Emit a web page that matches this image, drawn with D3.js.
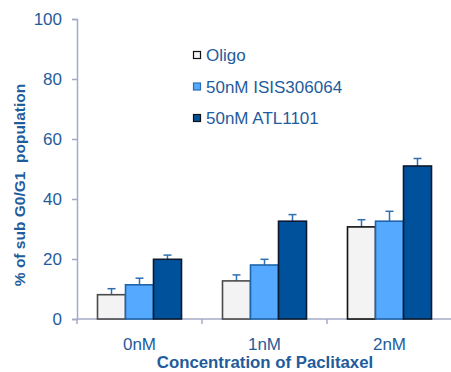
<!DOCTYPE html>
<html>
<head>
<meta charset="utf-8">
<script src="https://cdn.jsdelivr.net/npm/d3@7"></script>
<style>
  html, body { margin: 0; padding: 0; background: #fff; }
  svg { display: block; font-family: "Liberation Sans", Arial, sans-serif; }
</style>
</head>
<body>
<svg id="chart" width="451" height="372"></svg>
<script>
// Paclitaxel concentrations and treatment groups
const categories = ["0nM", "1nM", "2nM"];
const seriesNames = ["Oligo", "50nM ISIS306064", "50nM ATL1101"];
// % of sub G0/G1 population (mean) per series, one value per concentration
const oligo = [8.1, 12.7, 30.7];
const isis = [11.4, 18.0, 32.6];
const atl = [19.9, 32.6, 51.0];
// upper error (SD) per series
const oligoErr = [2.0, 2.0, 2.4];
const isisErr = [2.2, 1.9, 3.3];
const atlErr = [1.4, 2.2, 2.5];
const yTicks = [0, 20, 40, 60, 80, 100];

const values = [oligo, isis, atl];
const errors = [oligoErr, isisErr, atlErr];
const fills = ["#f3f3f3", "#55aaff", "#00519b"];
const strokes = ["#4a4a4a", "#1f64a8", "#0b1a2e"];
const textColor = "#1f5c9c";
const axisColor = "#a4abc6";
const errColor = "#2f6fb0";

const svg = d3.select("#chart");
const plotLeft = 77, plotRight = 452, plotTop = 19, plotBottom = 319;

const x = d3.scaleBand().domain(categories).range([plotLeft, plotRight]).padding(0);
const xs = d3.scaleBand().domain(d3.range(seriesNames.length))
  .range([20.5, x.bandwidth() - 20.5]).padding(0);
const y = d3.scaleLinear().domain([0, 100]).range([plotBottom, plotTop]);

// y axis
const yAxis = svg.append("g").attr("transform", `translate(${plotLeft},0)`)
  .call(d3.axisLeft(y).tickValues(yTicks).tickSize(5).tickPadding(10));
yAxis.select(".domain").attr("stroke", axisColor).attr("stroke-width", 1.5);
yAxis.selectAll(".tick line").attr("stroke", axisColor).attr("stroke-width", 1.5);
yAxis.selectAll(".tick text").attr("fill", textColor)
  .attr("font-size", 17).attr("font-family", "Liberation Sans, Arial, sans-serif");

// x axis: ticks at category boundaries
const xAxisG = svg.append("g").attr("transform", `translate(0,${plotBottom})`);
xAxisG.append("line").attr("x1", plotLeft).attr("x2", plotRight)
  .attr("stroke", axisColor).attr("stroke-width", 1.5);
const boundaries = categories.map(c => x(c));
xAxisG.selectAll("line.tk").data(boundaries).join("line").attr("class", "tk")
  .attr("x1", d => d).attr("x2", d => d).attr("y1", 0).attr("y2", 5)
  .attr("stroke", axisColor).attr("stroke-width", 1.5);
xAxisG.selectAll("text").data(categories).join("text")
  .attr("x", d => x(d) + x.bandwidth() / 2).attr("y", 30.5)
  .attr("text-anchor", "middle").attr("fill", textColor).attr("font-size", 17)
  .text(d => d);

// bars
const groups = svg.append("g").selectAll("g").data(categories).join("g")
  .attr("transform", d => `translate(${x(d)},0)`);

groups.each(function(cat, ci) {
  const g = d3.select(this);
  values.forEach((vals, si) => {
    const v = vals[ci], e = errors[si][ci];
    const bx = xs(si), bw = xs.bandwidth();
    const cx = bx + bw / 2;
    // error bar (upper only)
    g.append("line").attr("x1", cx).attr("x2", cx).attr("y1", y(v)).attr("y2", y(v + e))
      .attr("stroke", errColor).attr("stroke-width", 1.5);
    g.append("line").attr("x1", cx - 4).attr("x2", cx + 4).attr("y1", y(v + e)).attr("y2", y(v + e))
      .attr("stroke", errColor).attr("stroke-width", 1.5);
    g.append("rect").attr("x", bx).attr("y", y(v)).attr("width", bw).attr("height", y(0) - y(v))
      .attr("fill", fills[si]).attr("stroke", si === 0 && ci === 2 ? "#111" : strokes[si])
      .attr("stroke-width", 1.6);
  });
});

// legend
const legend = svg.append("g").attr("transform", "translate(193,55)");
seriesNames.forEach((name, i) => {
  const row = legend.append("g").attr("transform", `translate(0,${i * 31.5})`);
  row.append("rect").attr("x", 0.5).attr("y", -3.5).attr("width", 7).attr("height", 7)
    .attr("fill", fills[i]).attr("stroke", i === 1 ? "#2a6fb5" : "#111").attr("stroke-width", 1.2);
  row.append("text").attr("x", 13).attr("y", 6).attr("fill", textColor)
    .attr("font-size", 17).text(name);
});

// axis titles
svg.append("text").attr("x", 265).attr("y", 368.2).attr("text-anchor", "middle")
  .attr("fill", textColor).attr("font-size", 16.8).attr("font-weight", "bold")
  .text("Concentration of Paclitaxel");
svg.append("text").attr("transform", "translate(25,185) rotate(-90)").attr("text-anchor", "middle")
  .attr("fill", textColor).attr("font-size", 15.5).attr("font-weight", "bold")
  .attr("xml:space", "preserve").style("white-space", "pre")
  .text("% of sub G0/G1  population");
</script>
</body>
</html>
